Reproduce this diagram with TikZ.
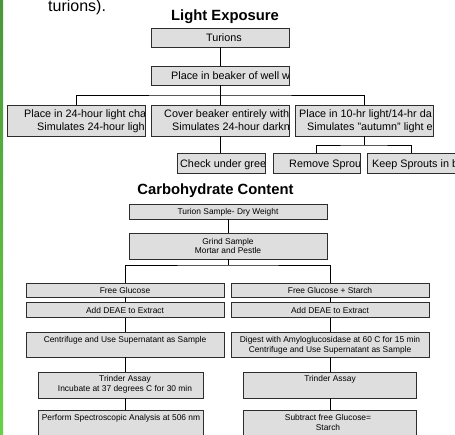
\documentclass[tikz,border=0pt]{standalone}
\usepackage{fontspec}
\setmainfont{Liberation Sans}

\definecolor{boxgray}{RGB}{222,222,222}
\definecolor{edgegray}{RGB}{45,45,45}
\definecolor{bartop}{RGB}{74,150,58}
\definecolor{barbottom}{RGB}{104,208,72}

% text that runs past the right edge of its box is cut off there
\newcommand{\cuttext}[4]{%
  \begin{scope}
    \clip ([xshift=0.5pt,yshift=0.5pt]#2.south west) rectangle ([xshift=-0.5pt,yshift=-0.5pt]#2.north east);
    \node[toptxt, anchor=base west] (#1) at (#3) {#4};
  \end{scope}}

\begin{document}
\begin{tikzpicture}[x=1pt, y=-1pt,
  box/.style 2 args={rectangle, draw=edgegray, fill=boxgray, line width=0.8pt,
    inner sep=0pt, minimum width=#1, minimum height=#2},
  toptxt/.style={font=\fontsize{10.8}{13}\selectfont, inner sep=0pt},
  lowtxt/.style={font=\fontsize{8.4}{10}\selectfont, inner sep=0pt, anchor=base},
  title/.style={font=\fontsize{14.8}{17}\selectfont\bfseries, inner sep=0pt, anchor=base},
  link/.style={draw=black, line width=0.8pt}]
\useasboundingbox (0,0) rectangle (455,434);
\clip (0,0) rectangle (455,434);

% green edge of the slide
\shade[top color=bartop, bottom color=barbottom] (0,0) rectangle (3,434);
\node[font=\fontsize{16}{19}\selectfont, inner sep=0pt, anchor=base west] (prev) at (48,11) {turions).};

%% Light Exposure
\node[title] (lighttitle) at (225,20.5) {Light Exposure};
\node[box={138pt}{19pt}] (turions) at (220,37.5) {};
\node[toptxt, anchor=base] (turionsT) at (224,41) {Turions};
\node[box={138pt}{19pt}] (beaker) at (220,75.5) {};
\cuttext{beakerT}{beaker}{171,79.5}{Place in beaker of well w}

\node[box={138pt}{31pt}] (hr24) at (76,120.5) {};
\node[box={138pt}{31pt}] (dark) at (220,120.5) {};
\node[box={138pt}{31pt}] (autumn) at (364,120.5) {};
\cuttext{hr24a}{hr24}{24,117.5}{Place in 24-hour light cha}
\cuttext{hr24b}{hr24}{37,130.5}{Simulates 24-hour ligh}
\cuttext{darka}{dark}{164,117.5}{Cover beaker entirely with}
\cuttext{darkb}{dark}{172,130.5}{Simulates 24-hour darkn}
\cuttext{autumna}{autumn}{299,117.5}{Place in 10-hr light/14-hr da}
\cuttext{autumnb}{autumn}{307,130.5}{Simulates "autumn" light e}

\node[box={88pt}{20pt}] (check) at (221,163) {};
\node[box={87pt}{20pt}] (remove) at (316.5,163) {};
\node[box={88pt}{20pt}] (keep) at (411,163) {};
\cuttext{checkT}{check}{180,167}{Check under gree}
\cuttext{removeT}{remove}{289,167}{Remove Sprou}
\cuttext{keepT}{keep}{372,167}{Keep Sprouts in b}

\coordinate (lbus) at (220,95);
\coordinate (sbus) at (364,145);
\draw[link] (turions.south) -- (beaker.north);
\draw[link] (beaker.south) -- (dark.north);
\draw[link] (hr24.north) |- (lbus) -| (autumn.north);
\draw[link] (dark.south) -- (dark.south |- check.north);
\draw[link] (autumn.south) -- (sbus);
\draw[link] (remove.north) |- (sbus) -| (keep.north);

%% Carbohydrate Content
\node[title] (carbtitle) at (215.5,194) {Carbohydrate Content};
\node[box={198pt}{15pt}] (sample) at (228,211.5) {};
\node[lowtxt] (sampleT) at (228,214.5) {Turion Sample- Dry Weight};
\node[box={198pt}{26pt}] (grind) at (228,246) {};
\node[lowtxt] (grindA) at (228,244) {Grind Sample};
\node[lowtxt] (grindB) at (228,253.5) {Mortar and Pestle};

\node[box={198pt}{14pt}] (free) at (125,290) {};
\node[lowtxt] (freeT) at (125,293) {Free Glucose};
\node[box={198pt}{14pt}] (starch) at (330,290) {};
\node[lowtxt] (starchT) at (330,293) {Free Glucose + Starch};

\node[box={198pt}{15pt}] (deaeL) at (125,310) {};
\node[lowtxt] (deaeLT) at (125,313) {Add DEAE to Extract};
\node[box={198pt}{15pt}] (deaeR) at (330,310) {};
\node[lowtxt] (deaeRT) at (330,313) {Add DEAE to Extract};

\node[box={198pt}{25pt}] (spin) at (125,344.5) {};
\node[lowtxt] (spinT) at (125,342) {Centrifuge and Use Supernatant as Sample};
\node[box={198pt}{25pt}] (digest) at (330,344.5) {};
\node[lowtxt] (digestA) at (330,342) {Digest with Amyloglucosidase at 60 C for 15 min};
\node[lowtxt] (digestB) at (330,352) {Centrifuge and Use Supernatant as Sample};

\node[box={165pt}{26pt}] (trinL) at (120.5,385) {};
\node[lowtxt] (trinLA) at (125,381) {Trinder Assay};
\node[lowtxt] (trinLB) at (125,391.5) {Incubate at 37 degrees C for 30 min};
\node[box={173pt}{26pt}] (trinR) at (329.5,385) {};
\node[lowtxt] (trinRT) at (330,381) {Trinder Assay};

\node[box={165pt}{32pt}] (spec) at (120.5,426) {};
\node[lowtxt] (specT) at (121,420) {Perform Spectroscopic Analysis at 506 nm};
\node[box={173pt}{32pt}] (subtr) at (329.5,426) {};
\node[lowtxt] (subtrA) at (328,420) {Subtract free Glucose=};
\node[lowtxt] (subtrB) at (328,430.5) {Starch};

\coordinate (cbus) at (228,265);
\draw[link] (sample.south) -- (grind.north);
\draw[link] (grind.south) -- (cbus);
\draw[link] (free.north) |- (cbus) -| (starch.north);
\draw[link] (free.south) -- (deaeL.north);
\draw[link] (starch.south) -- (deaeR.north);
\draw[link] (deaeL.south) -- (spin.north);
\draw[link] (deaeR.south) -- (digest.north);
\draw[link] (spin.south) -- (spin.south |- trinL.north);
\draw[link] (digest.south) -- (digest.south |- trinR.north);
\draw[link] (trinL.south -| spin.south) -- (spec.north -| spin.south);
\draw[link] (trinR.south -| digest.south) -- (subtr.north -| digest.south);
\end{tikzpicture}
\end{document}
